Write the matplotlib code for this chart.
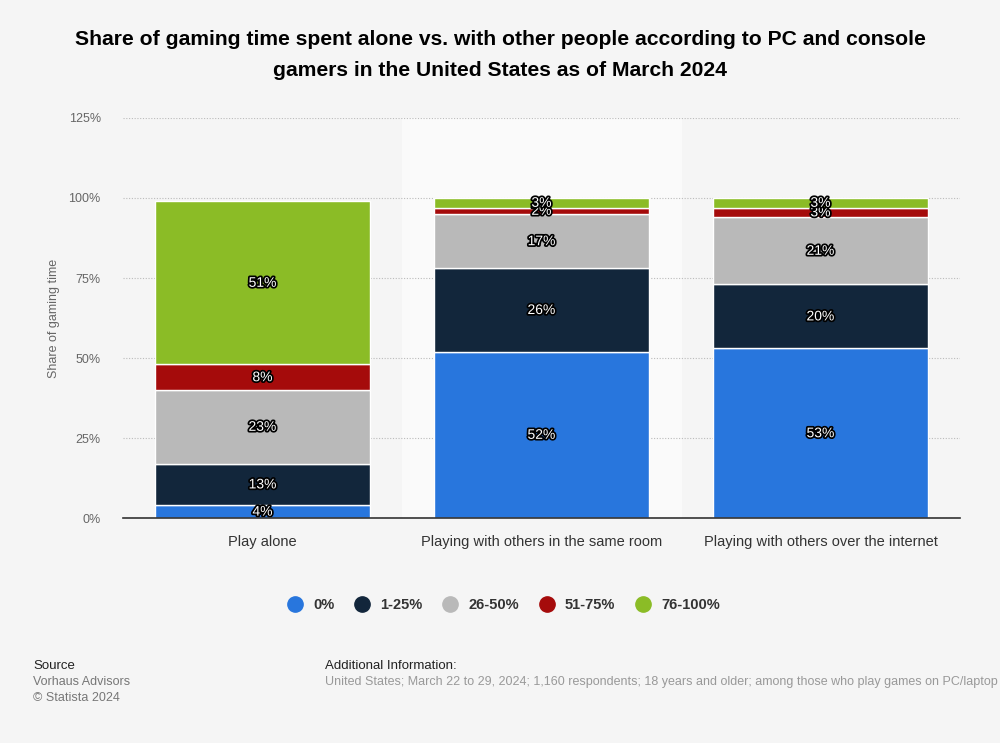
import matplotlib.pyplot as plt
import matplotlib.patheffects as pe
import numpy as np

plt.rcParams["font.family"] = ["Liberation Sans", "DejaVu Sans"]

categories = ["Play alone", "Playing with others in the same room", "Playing with others over the internet"]
series_names = ["0%", "1-25%", "26-50%", "51-75%", "76-100%"]
values = {
    "0%": [4, 52, 53],
    "1-25%": [13, 26, 20],
    "26-50%": [23, 17, 21],
    "51-75%": [8, 2, 3],
    "76-100%": [51, 3, 3],
}
colors = ["#2876dd", "#12263b", "#b9b9b9", "#a50b0b", "#8bbc26"]
yticks = [0, 25, 50, 75, 100, 125]

fig = plt.figure(figsize=(10, 7.43), dpi=100)
fig.patch.set_facecolor("#f5f5f5")
ax = fig.add_axes([0.123, 0.3028, 0.837, 0.5384])
ax.set_facecolor("#f5f5f5")

x = np.arange(len(categories))
# highlighted band behind the middle category
ax.axvspan(0.5, 1.5, color="#fafafa", zorder=0)

bottom = np.zeros(len(categories))
stroke = [pe.withStroke(linewidth=2.5, foreground="black")]
for name, col in zip(series_names, colors):
    vals = np.array(values[name], dtype=float)
    ax.bar(x, vals, bottom=bottom, width=0.77, color=col,
           edgecolor="white", linewidth=1, zorder=3)
    for xi, b, v in zip(x, bottom, vals):
        ax.text(xi, b + v / 2, f"{int(v)}%", ha="center", va="center",
                fontsize=10, color="white", zorder=4, path_effects=stroke)
    bottom += vals

ax.set_xlim(-0.5, 2.5)
ax.set_ylim(0, 125)
ax.set_yticks(yticks)
ax.set_yticklabels([f"{t}%" for t in yticks], fontsize=9, color="#666666")
ax.set_xticks(x)
ax.set_xticklabels(categories, fontsize=10.5, color="#333333")
ax.tick_params(axis="both", length=0)
ax.tick_params(axis="y", pad=16)
ax.tick_params(axis="x", pad=12)
ax.yaxis.grid(True, linestyle=(0, (1, 1.5)), color="#bbbbbb", linewidth=0.8, zorder=1)
ax.set_axisbelow(True)
for s in ["top", "right", "left"]:
    ax.spines[s].set_visible(False)
ax.spines["bottom"].set_color("#333333")
ax.spines["bottom"].set_linewidth(1.2)
ax.spines["bottom"].set_zorder(5)
ax.set_ylabel("Share of gaming time", fontsize=9, color="#666666", labelpad=6)

fig.text(0.5, 0.96, "Share of gaming time spent alone vs. with other people according to PC and console\ngamers in the United States as of March 2024",
         ha="center", va="top", fontsize=15.2, fontweight="bold", color="#000000", linespacing=1.8)

handles = [plt.Line2D([], [], marker="o", linestyle="", markersize=11, color=c) for c in colors]
leg = fig.legend(handles, series_names, loc="center", bbox_to_anchor=(0.5, 0.186), ncol=5,
                 frameon=False, handletextpad=0.25, columnspacing=0.9, prop={"weight": "bold", "size": 10.5})
for t in leg.get_texts():
    t.set_color("#333333")

fig.text(0.033, 0.104, "Source", fontsize=9.5, color="#222222", va="center")
fig.text(0.033, 0.082, "Vorhaus Advisors", fontsize=9, color="#777777", va="center")
fig.text(0.033, 0.061, "© Statista 2024", fontsize=9, color="#777777", va="center")
fig.text(0.325, 0.104, "Additional Information:", fontsize=9.5, color="#222222", va="center")
fig.text(0.325, 0.082, "United States; March 22 to 29, 2024; 1,160 respondents; 18 years and older; among those who play games on PC/laptop or console",
         fontsize=9, color="#999999", va="center")

fig.savefig("out.png", dpi=100, facecolor=fig.get_facecolor())
